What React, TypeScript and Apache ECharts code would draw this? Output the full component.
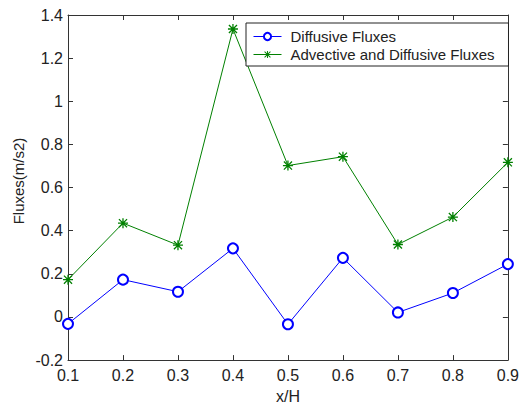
import React, { useEffect, useRef } from "react";
import * as echarts from "echarts";

// Positions along the layer (x/H) and the flux values at each of them
const xPositions = [0.1, 0.2, 0.3, 0.4, 0.5, 0.6, 0.7, 0.8, 0.9];
const diffusiveFluxes = [-0.032, 0.173, 0.117, 0.318, -0.034, 0.274, 0.021, 0.111, 0.245];
const advectiveDiffusiveFluxes = [0.173, 0.435, 0.333, 1.335, 0.702, 0.743, 0.336, 0.463, 0.717];

const seriesNames = ["Diffusive Fluxes", "Advective and Diffusive Fluxes"];

// Asterisk marker built from a "+" and an "x" made of thin bars
const ASTERISK =
  "path://M4.35,0 h1.3 v10 h-1.3 z M0,4.35 h10 v1.3 h-10 z " +
  "M0.5,1.4 L1.4,0.5 L9.5,8.6 L8.6,9.5 Z M8.6,0.5 L9.5,1.4 L1.4,9.5 L0.5,8.6 Z";

const FONT = "'Liberation Sans', Arial, sans-serif";
const TEXT = "#222";
const AXIS = "#333";

export default function App() {
  const ref = useRef<HTMLDivElement>(null);

  useEffect(() => {
    if (!ref.current) return;
    const chart = echarts.init(ref.current, null, { renderer: "svg" });

    const pairs = (ys: number[]) => xPositions.map((x, i) => [x, ys[i]]);

    const boxLine = { show: true, onZero: false, lineStyle: { color: AXIS, width: 1 } };
    const boxTick = { show: true, inside: true, length: 5, lineStyle: { color: AXIS } };

    const hiddenAxis = {
      axisLine: boxLine,
      axisTick: boxTick,
      axisLabel: { show: false },
      splitLine: { show: false },
    };

    chart.setOption({
      animation: false,
      backgroundColor: "#ffffff",
      grid: { left: 68, right: 7, top: 15, bottom: 44 },
      legend: {
        orient: "vertical",
        left: 246,
        top: 23,
        padding: [6, 14, 4, 7],
        itemGap: 3,
        itemWidth: 28,
        itemHeight: 9,
        borderColor: "#222",
        borderWidth: 1,
        backgroundColor: "#ffffff",
        lineStyle: { width: 1 },
        itemStyle: { borderWidth: 1 },
        textStyle: { fontFamily: FONT, fontSize: 15, color: TEXT, padding: [0, 0, 0, 4] },
        data: seriesNames,
      },
      xAxis: [
        {
          type: "value",
          min: 0.1,
          max: 0.9,
          interval: 0.1,
          name: "x/H",
          nameLocation: "middle",
          nameGap: 27,
          nameTextStyle: { fontFamily: FONT, fontSize: 16, color: TEXT },
          axisLine: boxLine,
          axisTick: boxTick,
          axisLabel: {
            fontFamily: FONT,
            fontSize: 16,
            color: TEXT,
            margin: 7,
            formatter: (v: number) => v.toFixed(1),
          },
          splitLine: { show: false },
        },
        { type: "value", position: "top", min: 0.1, max: 0.9, interval: 0.1, ...hiddenAxis },
      ],
      yAxis: [
        {
          type: "value",
          min: -0.2,
          max: 1.4,
          interval: 0.2,
          axisLine: boxLine,
          axisTick: boxTick,
          axisLabel: {
            fontFamily: FONT,
            fontSize: 16,
            color: TEXT,
            margin: 5,
            formatter: (v: number) => String(Math.round(v * 10) / 10),
          },
          splitLine: { show: false },
        },
        { type: "value", position: "right", min: -0.2, max: 1.4, interval: 0.2, ...hiddenAxis },
      ],
      graphic: [
        {
          type: "text",
          x: 18,
          y: 181,
          rotation: Math.PI / 2,
          style: {
            text: "Fluxes(m/s2)",
            fontFamily: FONT,
            fontSize: 15,
            fill: TEXT,
            align: "center",
            verticalAlign: "middle",
          },
        },
      ],
      series: [
        {
          name: seriesNames[0],
          type: "line",
          data: pairs(diffusiveFluxes),
          symbol: "emptyCircle",
          symbolSize: 10,
          color: "#0000ff",
          lineStyle: { color: "#0000ff", width: 1 },
          itemStyle: { color: "#0000ff", borderColor: "#0000ff", borderWidth: 1 },
        },
        {
          name: seriesNames[1],
          type: "line",
          data: pairs(advectiveDiffusiveFluxes),
          symbol: ASTERISK,
          symbolSize: 10,
          color: "#008000",
          lineStyle: { color: "#008000", width: 1 },
          itemStyle: { color: "#008000", borderWidth: 0 },
        },
      ],
    });

    return () => chart.dispose();
  }, []);

  return (
    <div
      ref={ref}
      style={{ position: "fixed", left: 0, top: 0, width: 522, height: 409 }}
    />
  );
}
